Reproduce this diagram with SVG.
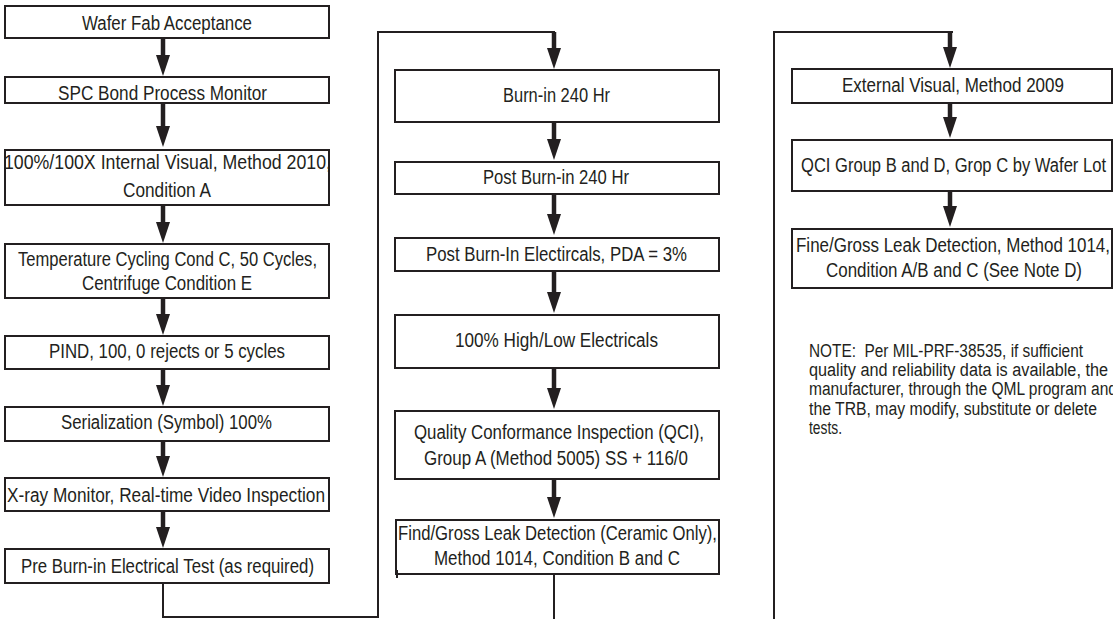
<svg xmlns="http://www.w3.org/2000/svg" width="1113" height="619" viewBox="0 0 1113 619">
<style>
.box{fill:#fff;stroke:#231f20;stroke-width:2}
.t{font-family:"Liberation Sans",Arial,sans-serif;font-size:20px;fill:#231f20}
.n{font-family:"Liberation Sans",Arial,sans-serif;font-size:18px;fill:#231f20}
.ar{stroke:#231f20;stroke-width:4.5;fill:none}
.ln{stroke:#231f20;stroke-width:2;fill:none}
</style>
<defs>
<marker id="ah" viewBox="0 0 21 14" refX="9" refY="7" markerWidth="21" markerHeight="14" markerUnits="userSpaceOnUse" orient="auto">
<path d="M0,0 L21,7 L0,14 z" fill="#231f20"/>
</marker>
</defs>
<rect width="1113" height="619" fill="#fff"/>
<g id="connectors">
<line class="ar" x1="163" y1="38" x2="163" y2="64" marker-end="url(#ah)"/>
<line class="ar" x1="163" y1="103" x2="163" y2="135" marker-end="url(#ah)"/>
<line class="ar" x1="163" y1="205" x2="163" y2="231" marker-end="url(#ah)"/>
<line class="ar" x1="163" y1="298" x2="163" y2="323" marker-end="url(#ah)"/>
<line class="ar" x1="163" y1="369" x2="163" y2="394" marker-end="url(#ah)"/>
<line class="ar" x1="163" y1="441" x2="163" y2="465" marker-end="url(#ah)"/>
<line class="ar" x1="163" y1="511" x2="163" y2="536" marker-end="url(#ah)"/>
<polyline class="ln" points="163,583 163,617 378,617 378,32 555,32"/>
<line class="ar" x1="554" y1="32" x2="554" y2="57" marker-end="url(#ah)"/>
<line class="ar" x1="554" y1="122" x2="554" y2="148" marker-end="url(#ah)"/>
<line class="ar" x1="554" y1="194" x2="554" y2="223" marker-end="url(#ah)"/>
<line class="ar" x1="554" y1="271" x2="554" y2="301" marker-end="url(#ah)"/>
<line class="ar" x1="554" y1="368" x2="554" y2="397" marker-end="url(#ah)"/>
<line class="ar" x1="554" y1="479" x2="554" y2="506" marker-end="url(#ah)"/>
<line class="ln" x1="554" y1="574" x2="554" y2="619"/>
<polyline class="ln" points="774,619 774,32 953,32"/>
<line class="ar" x1="950" y1="32" x2="950" y2="56" marker-end="url(#ah)"/>
<line class="ar" x1="950" y1="103" x2="950" y2="126" marker-end="url(#ah)"/>
<line class="ar" x1="950" y1="191" x2="950" y2="215" marker-end="url(#ah)"/>
</g>
<g id="n1"><rect class="box" x="5" y="6" width="324" height="32"/><text class="t" x="82" y="29.5" textLength="170" lengthAdjust="spacingAndGlyphs">Wafer Fab Acceptance</text></g>
<g id="n2"><rect class="box" x="5" y="77" width="324" height="26"/><text class="t" x="58" y="100" textLength="209" lengthAdjust="spacingAndGlyphs">SPC Bond Process Monitor</text></g>
<g id="n3"><rect class="box" x="5" y="150" width="324" height="55"/><text class="t" x="4" y="169" textLength="327" lengthAdjust="spacingAndGlyphs">100%/100X Internal Visual, Method 2010,</text><text class="t" x="123" y="197" textLength="88" lengthAdjust="spacingAndGlyphs">Condition A</text></g>
<g id="n4"><rect class="box" x="5" y="244" width="324" height="54"/><text class="t" x="18" y="266" textLength="299" lengthAdjust="spacingAndGlyphs">Temperature Cycling Cond C, 50 Cycles,</text><text class="t" x="82" y="290" textLength="170" lengthAdjust="spacingAndGlyphs">Centrifuge Condition E</text></g>
<g id="n5"><rect class="box" x="5" y="336" width="324" height="33"/><text class="t" x="49" y="358" textLength="236" lengthAdjust="spacingAndGlyphs">PIND, 100, 0 rejects or 5 cycles</text></g>
<g id="n6"><rect class="box" x="5" y="407" width="324" height="34"/><text class="t" x="61" y="429" textLength="211" lengthAdjust="spacingAndGlyphs">Serialization (Symbol) 100%</text></g>
<g id="n7"><rect class="box" x="5" y="478" width="324" height="33"/><text class="t" x="7" y="502" textLength="318" lengthAdjust="spacingAndGlyphs">X-ray Monitor, Real-time Video Inspection</text></g>
<g id="n8"><rect class="box" x="5" y="549" width="324" height="34"/><text class="t" x="21" y="573" textLength="293" lengthAdjust="spacingAndGlyphs">Pre Burn-in Electrical Test (as required)</text></g>
<g id="n9"><rect class="box" x="395" y="70" width="324" height="52"/><text class="t" x="503" y="102" textLength="107" lengthAdjust="spacingAndGlyphs">Burn-in 240 Hr</text></g>
<g id="n10"><rect class="box" x="395" y="162" width="324" height="32"/><text class="t" x="483" y="184" textLength="146" lengthAdjust="spacingAndGlyphs">Post Burn-in 240 Hr</text></g>
<g id="n11"><rect class="box" x="395" y="238" width="324" height="33"/><text class="t" x="426" y="261" textLength="261" lengthAdjust="spacingAndGlyphs">Post Burn-In Electircals, PDA = 3%</text></g>
<g id="n12"><rect class="box" x="395" y="315" width="324" height="53"/><text class="t" x="455" y="347" textLength="203" lengthAdjust="spacingAndGlyphs">100% High/Low Electricals</text></g>
<g id="n13"><rect class="box" x="395" y="411" width="324" height="68"/><text class="t" x="414" y="439" textLength="290" lengthAdjust="spacingAndGlyphs">Quality Conformance Inspection (QCI),</text><text class="t" x="424" y="465" textLength="264" lengthAdjust="spacingAndGlyphs">Group A (Method 5005) SS + 116/0</text></g>
<g id="n14"><rect class="box" x="396" y="520" width="323" height="54"/><line class="ln" x1="397" y1="570" x2="397" y2="578"/><text class="t" x="398" y="540" textLength="319" lengthAdjust="spacingAndGlyphs">Find/Gross Leak Detection (Ceramic Only),</text><text class="t" x="434" y="565" textLength="246" lengthAdjust="spacingAndGlyphs">Method 1014, Condition B and C</text></g>
<g id="n15"><rect class="box" x="792" y="69" width="320" height="34"/><text class="t" x="842" y="92" textLength="222" lengthAdjust="spacingAndGlyphs">External Visual, Method 2009</text></g>
<g id="n16"><rect class="box" x="792" y="140" width="320" height="51"/><text class="t" x="801" y="172" textLength="305" lengthAdjust="spacingAndGlyphs">QCI Group B and D, Grop C by Wafer Lot</text></g>
<g id="n17"><rect class="box" x="792" y="229" width="320" height="59"/><text class="t" x="796" y="252" textLength="314" lengthAdjust="spacingAndGlyphs">Fine/Gross Leak Detection, Method 1014,</text><text class="t" x="826" y="277" textLength="256" lengthAdjust="spacingAndGlyphs">Condition A/B and C (See Note D)</text></g>
<g id="note">
<text class="n" x="809" y="356.5" textLength="274" lengthAdjust="spacingAndGlyphs" xml:space="preserve">NOTE:  Per MIL-PRF-38535, if sufficient</text>
<text class="n" x="809" y="376" textLength="299" lengthAdjust="spacingAndGlyphs">quality and reliability data is available, the</text>
<text class="n" x="809" y="395" textLength="308" lengthAdjust="spacingAndGlyphs">manufacturer, through the QML program and</text>
<text class="n" x="809" y="414.5" textLength="288" lengthAdjust="spacingAndGlyphs">the TRB, may modify, substitute or delete</text>
<text class="n" x="809" y="434" textLength="33" lengthAdjust="spacingAndGlyphs">tests.</text>
</g>
</svg>
